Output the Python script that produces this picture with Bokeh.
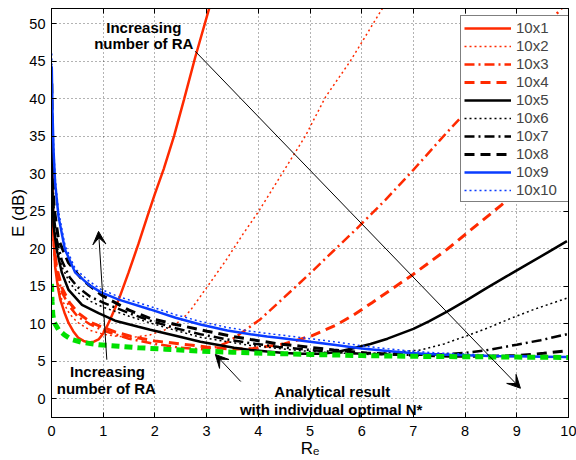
import math
from bokeh.plotting import figure
from bokeh.models import (Range1d, LinearAxis, FixedTicker, Legend, LegendItem,
                          Label, Arrow, VeeHead)
from bokeh.embed import file_html
from bokeh.resources import INLINE

# ---------------- data ----------------
labels = ["10x1", "10x2", "10x3", "10x4", "10x5", "10x6", "10x7", "10x8", "10x9", "10x10"]

x_10x1 = [0.005, 0.02, 0.04, 0.07, 0.12, 0.17, 0.25, 0.33, 0.42, 0.52, 0.62, 0.72, 0.82, 0.91,
          1.0, 1.07, 1.15, 1.3, 1.49, 1.68, 1.85, 2.0, 2.17, 2.37, 2.56, 2.78, 3.07, 3.2]
e_10x1 = [33, 26, 22, 17.6, 15.0, 13.2, 11.5, 10.1, 9.0, 8.1, 7.7, 7.5, 7.6, 7.9,
          8.7, 9.6, 10.8, 13.2, 16.8, 20.6, 24.2, 27.3, 30.6, 35.0, 39.8, 45.5, 52.5, 55.5]

x_10x2 = [0.005, 0.02, 0.05, 0.1, 0.2, 0.35, 0.5, 0.75, 1.0, 1.3, 1.6, 1.9, 2.2, 2.5, 2.69,
          3.0, 3.37, 3.71, 4.01, 4.46, 4.91, 5.3, 5.78, 6.4, 6.6]
e_10x2 = [32, 24, 19, 16, 13.2, 11.3, 10.2, 9.1, 8.6, 8.3, 8.2, 8.5, 9.2, 10.4, 11.8,
          14.8, 18.4, 22.0, 25.0, 30.0, 35.0, 40.2, 45.0, 52.0, 54.0]

x_10x3 = [0.005, 0.02, 0.05, 0.1, 0.2, 0.35, 0.5, 0.75, 1.0, 1.5, 2.0, 2.5, 2.9, 3.2, 3.4,
          3.6, 3.8, 4.04, 4.5, 4.97, 5.53, 5.88, 6.46, 7.0, 7.65, 8.3, 9.0, 9.85, 10.0]
e_10x3 = [33, 25, 20, 17, 14.2, 12.3, 11.0, 9.9, 9.1, 8.0, 7.3, 6.8, 6.6, 6.9, 7.5,
          8.4, 9.4, 10.6, 13.5, 16.5, 20.2, 22.5, 26.5, 30.5, 35.5, 40.3, 45.5, 51.9, 53.0]

x_10x4 = [0.005, 0.02, 0.05, 0.1, 0.2, 0.35, 0.52, 0.78, 1.0, 1.23, 1.6, 2.0, 2.5, 3.0, 3.5,
          3.9, 4.5, 5.0, 5.5, 5.85, 6.2, 6.56, 7.0, 7.65, 8.2, 8.7, 9.3, 10.0]
e_10x4 = [34, 26, 20.5, 17.5, 14.8, 12.8, 11.4, 10.1, 9.5, 8.9, 8.2, 7.7, 7.3, 6.9, 6.6,
          6.7, 7.3, 8.3, 9.8, 11.2, 12.8, 14.5, 16.6, 19.9, 23.0, 25.8, 29.3, 33.5]

x_10x5 = [0.005, 0.02, 0.04, 0.1, 0.2, 0.33, 0.59, 0.91, 1.23, 1.68, 1.91, 2.4, 2.88, 3.53,
          3.85, 4.17, 4.5, 4.82, 5.2, 5.5, 5.82, 6.17, 6.5, 7.0, 7.3, 7.65, 8.0, 8.43,
          8.8, 9.2, 9.6, 9.97]
e_10x5 = [36, 27, 23, 19.9, 16.8, 14.5, 12.5, 11.4, 10.4, 9.6, 9.2, 8.4, 7.6, 6.8,
          6.5, 6.3, 6.1, 6.0, 6.0, 6.2, 6.7, 7.3, 8.0, 9.3, 10.3, 11.6, 13.0, 14.8,
          16.3, 17.9, 19.5, 21.0]

x_10x6 = [0.005, 0.02, 0.05, 0.1, 0.2, 0.35, 0.5, 0.75, 1.0, 1.5, 1.91, 2.4, 2.88, 3.4,
          3.85, 4.4, 4.8, 5.5, 6.0, 6.5, 7.14, 7.59, 8.04, 8.43, 8.88, 9.33, 9.97]
e_10x6 = [38, 28, 23, 20.6, 17.6, 15.5, 14.2, 13.0, 12.2, 11.0, 10.1, 9.1, 8.2, 7.6,
          7.1, 6.7, 6.4, 6.1, 6.0, 6.1, 6.5, 7.3, 8.4, 9.4, 10.7, 11.9, 13.4]

x_10x7 = [0.005, 0.02, 0.05, 0.1, 0.2, 0.35, 0.5, 0.75, 1.0, 1.5, 1.91, 2.4, 2.88, 3.4,
          3.85, 4.4, 5.0, 5.5, 6.0, 6.5, 7.0, 7.5, 7.97, 8.36, 9.0, 9.46, 9.97]
e_10x7 = [40, 29, 24, 21.2, 18.4, 16.2, 14.9, 13.6, 12.8, 11.4, 10.4, 9.4, 8.6, 7.9,
          7.4, 6.9, 6.5, 6.2, 6.0, 5.9, 5.85, 5.9, 6.1, 6.4, 7.2, 7.8, 8.6]

x_10x8 = [0.005, 0.02, 0.05, 0.135, 0.33, 0.59, 0.97, 1.5, 1.91, 2.4, 3.01, 3.5, 3.85,
          4.4, 4.82, 5.46, 6.1, 6.5, 7.0, 7.5, 8.0, 8.5, 9.0, 9.52, 9.97]
e_10x8 = [42, 31, 25.5, 21.2, 18.1, 15.9, 13.8, 11.8, 10.7, 9.9, 9.0, 8.3, 7.9,
          7.3, 7.0, 6.5, 6.1, 5.95, 5.8, 5.7, 5.65, 5.65, 5.75, 6.05, 6.4]

x_10x9 = [0.005, 0.02, 0.04, 0.07, 0.135, 0.26, 0.46, 0.72, 0.95, 1.3, 1.91, 2.4, 2.88,
          3.4, 3.85, 4.17, 4.43, 5.0, 5.46, 6.0, 6.5, 6.94, 7.46, 8.0, 8.5, 9.0, 9.5, 10.0]
e_10x9 = [44.3, 38, 33, 28.8, 24.3, 19.9, 16.8, 15.2, 14.2, 13.2, 11.9, 10.8, 9.9,
          9.1, 8.6, 8.3, 8.1, 7.6, 7.2, 6.7, 6.35, 6.1, 5.9, 5.8, 5.7, 5.65, 5.6, 5.55]

x_10x10 = [0.005, 0.02, 0.04, 0.07, 0.135, 0.26, 0.46, 0.72, 0.95, 1.3, 1.91, 2.4, 2.88,
           3.4, 3.85, 4.17, 4.43, 5.0, 5.46, 6.0, 6.5, 6.94, 7.46, 8.0, 8.5, 9.0, 9.5, 10.0]
e_10x10 = [46, 39, 34, 29.5, 25, 20.5, 17.3, 15.7, 14.6, 13.6, 12.3, 11.2, 10.3,
           9.5, 9.0, 8.7, 8.5, 8.0, 7.6, 7.05, 6.65, 6.35, 6.1, 5.95, 5.8, 5.7, 5.62, 5.56]

x_opt = [0.0, 0.01, 0.025, 0.05, 0.135, 0.25, 0.39, 0.6, 0.91, 1.3, 1.68, 2.2, 2.88, 3.5,
         4.2, 5.0, 6.0, 7.0, 8.0, 9.0, 10.0]
e_opt = [15.3, 13.0, 11.2, 10.2, 9.2, 8.5, 7.9, 7.5, 7.2, 7.0, 6.8, 6.6, 6.35, 6.2,
         6.05, 5.9, 5.75, 5.65, 5.6, 5.55, 5.5]

x_ticks = [0, 1, 2, 3, 4, 5, 6, 7, 8, 9, 10]
y_ticks = [0, 5, 10, 15, 20, 25, 30, 35, 40, 45, 50]

# ---------------- styles ----------------
RED = "#ff2a00"
BLUE = "#0a3cff"
BLACK = "#000000"
GREEN = "#00e000"
FONT = "Liberation Sans"

series = [
    (x_10x1, e_10x1, RED, None, 2.5),
    (x_10x2, e_10x2, RED, "2 3", 1.5),
    (x_10x3, e_10x3, RED, "10 4 2 4", 2.5),
    (x_10x4, e_10x4, RED, "10 6", 3.0),
    (x_10x5, e_10x5, BLACK, None, 2.5),
    (x_10x6, e_10x6, BLACK, "2 3", 1.5),
    (x_10x7, e_10x7, BLACK, "10 4 2 4", 2.5),
    (x_10x8, e_10x8, BLACK, "10 6", 3.0),
    (x_10x9, e_10x9, BLUE, None, 2.5),
    (x_10x10, e_10x10, BLUE, "2 3", 1.5),
]

p = figure(width=576, height=460, x_range=Range1d(0, 10), y_range=Range1d(-2.5, 52),
           output_backend="svg", toolbar_location=None,
           min_border_left=51, min_border_right=8, min_border_top=8, min_border_bottom=42)
p.background_fill_color = "white"
p.border_fill_color = "white"
p.outline_line_color = "black"
p.outline_line_width = 1

for ax, ticks in ((p.xaxis[0], x_ticks), (p.yaxis[0], y_ticks)):
    ax.ticker = FixedTicker(ticks=ticks)
    ax.major_tick_in = 5
    ax.major_tick_out = 0
    ax.minor_tick_line_color = None
    ax.axis_line_color = "black"
    ax.major_label_text_font = FONT
    ax.major_label_text_font_size = "14.5px"
    ax.major_label_text_color = "black"
    ax.axis_label_text_font = FONT
    ax.axis_label_text_font_size = "17px"
    ax.axis_label_text_font_style = "normal"
    ax.axis_label_text_color = "black"
p.xaxis[0].major_label_standoff = 8
p.yaxis[0].major_label_standoff = 6
p.xaxis[0].axis_label = "R\u2091"
p.xaxis[0].axis_label_standoff = 0
p.yaxis[0].axis_label = "E (dB)"
p.yaxis[0].axis_label_standoff = -2

for loc, ticks in (("above", x_ticks), ("right", y_ticks)):
    ax = LinearAxis(ticker=FixedTicker(ticks=ticks), major_tick_in=5, major_tick_out=0,
                    minor_tick_line_color=None, major_label_text_font_size="1px",
                    major_label_text_color=None, major_label_standoff=0,
                    axis_line_color="black")
    p.add_layout(ax, loc)

for g, ticks in ((p.xgrid[0], x_ticks), (p.ygrid[0], y_ticks)):
    g.grid_line_color = "black"
    g.grid_line_alpha = 0.6
    g.grid_line_dash = "1 3"
    g.grid_line_width = 1
    g.ticker = FixedTicker(ticks=ticks)

items = []
for (xs, ys, col, dash, w), lab in zip(series, labels):
    kw = dict(line_color=col, line_width=w)
    if dash:
        kw["line_dash"] = dash
    r = p.line(xs, ys, **kw)
    items.append(LegendItem(label=lab, renderers=[r]))

p.line(x_opt, e_opt, line_color=GREEN, line_width=5, line_dash="8 5")

legend = Legend(items=items, location=(409, 215), border_line_color="black",
                border_line_width=1, background_fill_color="white", background_fill_alpha=1,
                label_text_font=FONT, label_text_font_size="15px", glyph_width=47,
                glyph_height=14, label_height=14, label_width=50, spacing=1, padding=3,
                margin=0, label_standoff=5)
p.add_layout(legend)

# annotations
def lab(x, y, text, size="15px", bold=True, angle=0.0):
    p.add_layout(Label(x=x, y=y, text=text, text_font=FONT, text_font_size=size,
                       text_font_style="bold" if bold else "normal", text_align="center",
                       text_baseline="middle", angle=angle, text_color="black"))

lab(1.785, 49.5, "Increasing")
lab(1.785, 47.3, "number of RA")
lab(1.083, 3.66, "Increasing")
lab(1.06, 1.32, "number of RA")
lab(5.43, 0.92, "Analytical result")
lab(5.41, -1.44, "with individual optimal N*")

for (x0, y0, x1, y1) in ((2.78, 46.3, 9.07, 1.4), (1.07, 5.2, 0.91, 22.3), (3.66, 2.3, 3.17, 5.9)):
    p.add_layout(Arrow(end=VeeHead(size=13, fill_color="black", line_color="black", line_width=1),
                       x_start=x0, y_start=y0, x_end=x1, y_end=y1,
                       line_color="black", line_width=1))

open("out.html", "w").write(file_html(p, INLINE))
